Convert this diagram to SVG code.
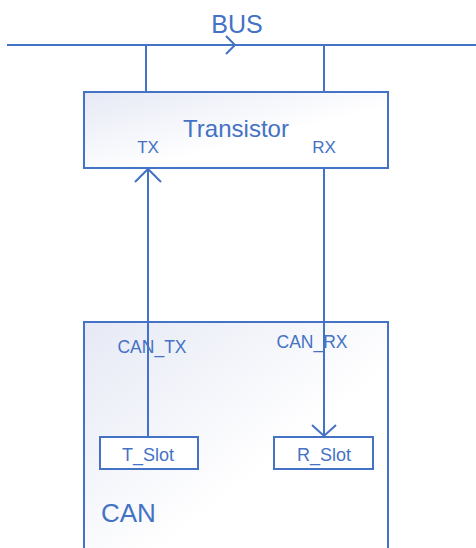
<svg xmlns="http://www.w3.org/2000/svg" width="476" height="548" viewBox="0 0 476 548">
<style>
.ln{stroke:#4472C4;stroke-width:2;fill:none}
.box{stroke:#4472C4;stroke-width:2}
.t{fill:#4472C4;font-family:"Liberation Sans","Open Sans",sans-serif;text-anchor:middle}
</style>
<defs>
<linearGradient id="g" x1="0" y1="0" x2="1" y2="1">
<stop offset="0" stop-color="#e6e9f5"/>
<stop offset="0.6" stop-color="#ffffff"/>
<stop offset="1" stop-color="#ffffff"/>
</linearGradient>
</defs>
<g id="bus">
<line class="ln" x1="7" y1="45" x2="476" y2="45"/>
<polyline class="ln" points="226,36 235,45 226,54"/>
<text class="t" x="237" y="33" font-size="25">BUS</text>
</g>
<g id="transistor">
<rect class="box" x="84" y="92" width="304" height="76" fill="url(#g)"/>
<text class="t" x="236" y="137" font-size="24">Transistor</text>
<text class="t" x="148" y="153" font-size="17">TX</text>
<text class="t" x="324" y="153" font-size="17">RX</text>
</g>
<g id="can">
<rect class="box" x="84" y="322" width="304" height="240" fill="url(#g)"/>
<text class="t" x="101" y="522" font-size="26" style="text-anchor:start">CAN</text>
<text class="t" x="152" y="353" font-size="17.5">CAN_TX</text>
<text class="t" x="312" y="348" font-size="17.5">CAN_RX</text>
</g>
<g id="t_slot">
<rect class="box" x="100" y="437" width="98" height="32" fill="#ffffff"/>
<text class="t" x="148" y="461" font-size="18">T_Slot</text>
</g>
<g id="r_slot">
<rect class="box" x="274" y="437" width="99" height="32" fill="#ffffff"/>
<text class="t" x="324" y="461" font-size="18">R_Slot</text>
</g>
<g id="connectors">
<line class="ln" x1="146" y1="45" x2="146" y2="92"/>
<line class="ln" x1="324" y1="45" x2="324" y2="92"/>
<line class="ln" x1="148" y1="437" x2="148" y2="169"/>
<polyline class="ln" points="135,182 148,169 161,182"/>
<line class="ln" x1="324" y1="168" x2="324" y2="436"/>
<polyline class="ln" points="312,425 324,436 336,425"/>
</g>
</svg>
